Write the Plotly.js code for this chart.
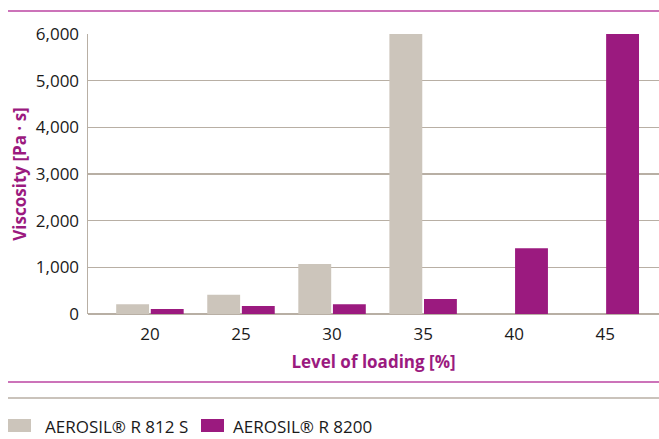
<!DOCTYPE html>
<html>
<head>
<meta charset="utf-8">
<script src="https://cdn.plot.ly/plotly-3.0.1.min.js"></script>
<style>html,body{margin:0;padding:0;background:#fff}#chart{width:659px;height:439px}</style>
</head>
<body>
<div id="chart"></div>
<script>
var categories = ['20', '25', '30', '35', '40', '45'];
var seriesNames = ['AEROSIL® R 812 S', 'AEROSIL® R 8200'];
var r812s = [210, 410, 1070, 6000, null, null];
var r8200 = [105, 170, 210, 320, 1410, 6000];
var yTickVals = [0, 1000, 2000, 3000, 4000, 5000, 6000];

var gray = '#ccc5bb';
var purple = '#9b1a7f';
var lineGray = '#b8afa4';
var linePurple = '#bb45a2';
var fontFam = '"Open Sans", "Noto Sans", sans-serif';
var colors = [gray, purple];

var traces = [
  {type: 'bar', name: seriesNames[0], x: categories, y: r812s, marker: {color: gray}, hoverinfo: 'y', showlegend: false},
  {type: 'bar', name: seriesNames[1], x: categories, y: r8200, marker: {color: purple}, hoverinfo: 'y', showlegend: false}
];

var plotH = 280, plotW = 571;
function py(px) { return (314 - px) / plotH; }
function pxx(px) { return (px - 88) / plotW; }

// legend drawn with library shapes and text
var swatchX = [8, 201];
var textX = [43, 231];
var shapes = [
  {type: 'line', xref: 'paper', yref: 'paper', x0: pxx(8), x1: 1.01, y0: py(11), y1: py(11), line: {color: linePurple, width: 1.5}},
  {type: 'line', xref: 'paper', yref: 'paper', x0: pxx(8), x1: 1.01, y0: py(382), y1: py(382), line: {color: linePurple, width: 1.5}},
  {type: 'line', xref: 'paper', yref: 'paper', x0: pxx(8), x1: 1.01, y0: py(398), y1: py(398), line: {color: lineGray, width: 1.5}}
];
var annotations = [];
for (var i = 0; i < seriesNames.length; i++) {
  shapes.push({type: 'rect', xref: 'paper', yref: 'paper', x0: pxx(swatchX[i]), x1: pxx(swatchX[i] + 23),
               y0: py(432), y1: py(419), fillcolor: colors[i], line: {width: 0}});
  annotations.push({xref: 'paper', yref: 'paper', x: pxx(textX[i]), y: py(426), xanchor: 'left', yanchor: 'middle',
                    text: seriesNames[i], showarrow: false, font: {family: fontFam, size: 17, color: '#1a1a1a'}});
}

var layout = {
  width: 659, height: 439,
  margin: {l: 88, r: 0, t: 34, b: 125, pad: 0},
  paper_bgcolor: '#fff', plot_bgcolor: '#fff',
  font: {family: fontFam, size: 17, color: '#1a1a1a'},
  barmode: 'group', bargap: 0.24, bargroupgap: 0.05,
  showlegend: false,
  xaxis: {type: 'category', range: [-0.68, 5.59], showgrid: false, showline: false, ticks: '',
          ticklabelstandoff: 8, fixedrange: true, automargin: false,
          title: {text: 'Level of loading [%]', standoff: 12, font: {family: fontFam, size: 17, color: purple, weight: 'bold'}}},
  yaxis: {range: [0, 6000], tickvals: yTickVals, tickformat: ',d', showgrid: true, gridcolor: lineGray, gridwidth: 1.5,
          zeroline: true, zerolinecolor: lineGray, zerolinewidth: 2.5, showline: true, linecolor: lineGray, linewidth: 1.5,
          ticks: '', ticklabelstandoff: 4, fixedrange: true, automargin: false,
          title: {text: 'Viscosity [Pa · s]', standoff: 5, font: {family: fontFam, size: 17, color: purple, weight: 'bold'}}},
  shapes: shapes,
  annotations: annotations
};

Plotly.newPlot('chart', traces, layout, {displayModeBar: false, staticPlot: true});
</script>
</body>
</html>
